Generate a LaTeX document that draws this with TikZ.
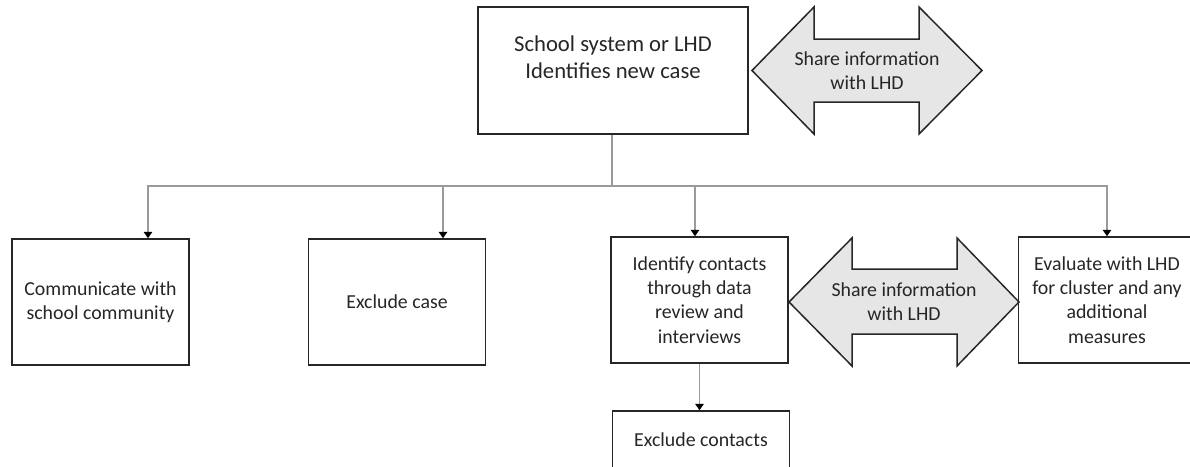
\documentclass[tikz,border=0pt]{standalone}
\usepackage{fontspec}
\setmainfont{Carlito}
\usepackage{xcolor}
\definecolor{cEdge}{HTML}{262626}
\definecolor{cLine}{HTML}{9A9A9A}
\definecolor{cShare}{HTML}{E7E6E6}
\usepackage{tikz}
\usetikzlibrary{positioning, arrows.meta, calc}

\begin{document}
\begin{tikzpicture}[
    x=0.6pt, y=-0.6pt,
    stepbox/.style={draw=cEdge, line width=0.9pt, fill=white, align=center,
                    minimum width=106.2pt, minimum height=75.6pt, text=cEdge,
                    inner sep=2pt, font=\fontsize{11.9}{14.6}\selectfont},
    topbox/.style={stepbox, minimum width=162pt, minimum height=76.2pt,
                   font=\fontsize{13.6}{16.2}\selectfont},
    sharearrow/.style={draw=cEdge, line width=0.9pt, fill=cShare, line join=miter},
    sharetext/.style={align=center, inner sep=0pt, text=cEdge,
                      font=\fontsize{11.9}{14.6}\selectfont},
    conn/.style={color=cLine, line width=0.8pt},
    arr/.style={conn, -{Triangle[length=3.8pt, width=5pt, black]}}
]
\clip (0,0) rectangle (1190,466);
\fill[white] (0,0) rectangle (1190,466);

\node[topbox] (newcase) at (613,70.5) {School system or LHD\\Identifies new case\\\mbox{}};

\node[stepbox] (comm) at (100.5,302) {Communicate with\\school community};
\node[stepbox] (exclcase) at (397,302) {Exclude case};
\node[stepbox] (contacts) at (699.5,300) {Identify contacts\\through data\\review and\\interviews};
\node[stepbox, minimum height=34.8pt] (exclcontacts) at (701,440) {Exclude contacts};
\node[stepbox] (evaluate) at (1107,300) {Evaluate with LHD\\for cluster and any\\additional\\measures};

% share arrows
\draw[sharearrow] (752,70.5) -- (814,7) -- (814,39) -- (919,39) -- (919,7) -- (982,70.5)
    -- (919,134) -- (919,102) -- (814,102) -- (814,134) -- cycle;
\node[sharetext] (shareTop) at (867,70.5) {Share information\\with LHD};
\draw[sharearrow] (789,302) -- (852,238) -- (852,269) -- (957,269) -- (957,238) -- (1019,302)
    -- (957,366) -- (957,334) -- (852,334) -- (852,366) -- cycle;
\node[sharetext] (shareMid) at (904,302) {Share information\\with LHD};

% connectors
\coordinate (bus) at (612,186);
\draw[conn] (newcase.south -| bus) -- (bus);
\draw[arr] (bus) -| ($(comm.north)+(47.5,0)$);
\draw[arr] (bus) -| ($(exclcase.north)+(46,0)$);
\draw[arr] (bus) -| ($(contacts.north)+(-4.5,0)$);
\draw[arr] (bus) -| (evaluate.north);
\draw[arr] (contacts.south) -- (contacts.south |- exclcontacts.north);
\end{tikzpicture}
\end{document}
